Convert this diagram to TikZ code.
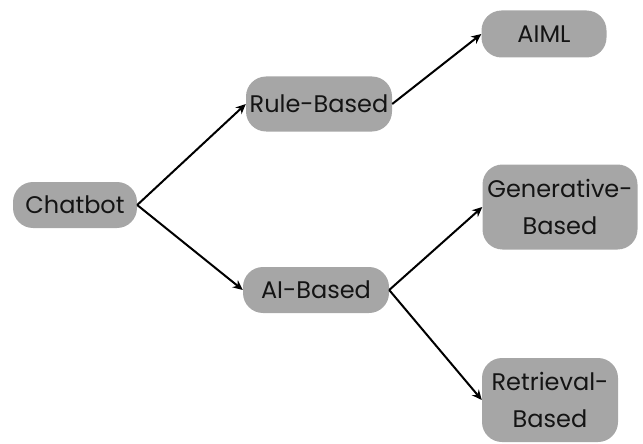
\documentclass[tikz,border=0pt]{standalone}
\usepackage{fontspec}
\setmainfont{Poppins}
\usetikzlibrary{arrows.meta}
\definecolor{boxgray}{HTML}{A6A6A6}
\definecolor{txt}{HTML}{141414}
\tikzset{
  pill/.style={fill=boxgray, rounded corners=20pt, text=txt, font=\fontsize{24}{37}\selectfont, inner sep=0pt, align=center},
  conn/.style={-{Stealth[length=10pt,width=9pt]}, line width=2pt, black}
}
\begin{document}
\begin{tikzpicture}[x=1pt,y=-1pt]
\useasboundingbox (0,0) rectangle (643,444);
\node[pill, minimum width=124pt, minimum height=46pt] (chat) at (75,205) {Chatbot};
\node[pill, minimum width=146pt, minimum height=55pt] (rule) at (319,104) {Rule-Based};
\node[pill, minimum width=146pt, minimum height=46pt] (ai) at (316,290) {AI-Based};
\node[pill, minimum width=125pt, minimum height=47pt] (aiml) at (544,34) {AIML};
\node[pill, minimum width=155pt, minimum height=85pt] (gen) at (560,207) {Generative-\\Based};
\node[pill, minimum width=136pt, minimum height=84pt] (ret) at (550,400) {Retrieval-\\Based};
\draw[conn] (chat.east) -- (rule.west);
\draw[conn] (chat.east) -- (ai.west);
\draw[conn] (rule.east) -- (aiml.west);
\draw[conn] (ai.east) -- (gen.west);
\draw[conn] (ai.east) -- (ret.west);
\end{tikzpicture}
\end{document}
